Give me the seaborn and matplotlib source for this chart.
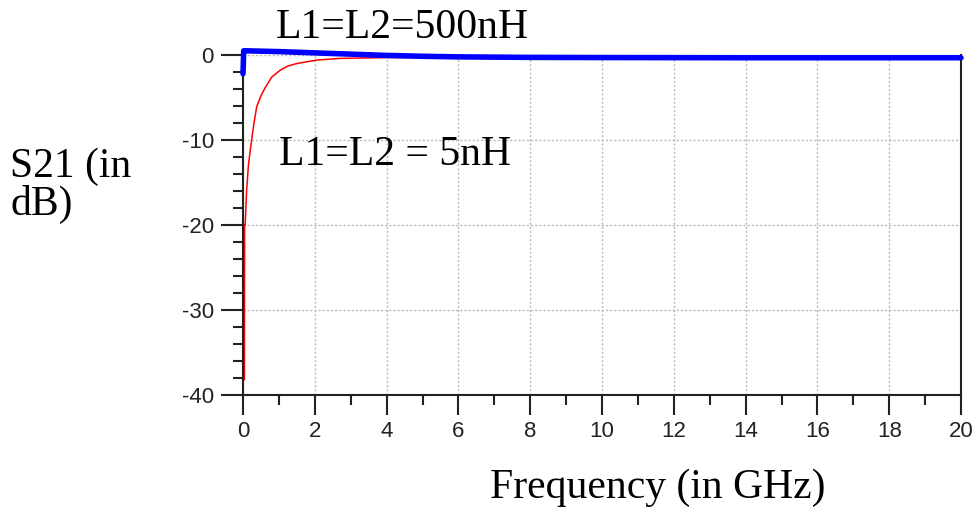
import numpy as np
import pandas as pd
import matplotlib
matplotlib.use("Agg")
import matplotlib.pyplot as plt
import seaborn as sns
from matplotlib.ticker import MultipleLocator

# --- data ---
freq_5nH = [0.04, 0.045, 0.06, 0.1, 0.15, 0.2, 0.24, 0.3, 0.38, 0.5, 0.61, 0.8,
            1.03, 1.25, 1.5, 2.05, 2.7, 3.4, 4.0, 6.0, 10.0, 20.0]
s21_5nH = [-38.2, -20.0, -20.0, -16.0, -13.0, -11.3, -10.0, -8.2, -6.1, -4.8, -3.9, -2.6,
           -1.8, -1.3, -1.0, -0.6, -0.4, -0.35, -0.3, -0.3, -0.3, -0.3]

freq_500nH = [0.0, 0.02, 1.0, 2.0, 3.0, 4.0, 5.0, 6.0, 8.0, 10.0, 14.0, 20.0]
s21_500nH = [-2.2, 0.5, 0.4, 0.25, 0.1, -0.05, -0.15, -0.22, -0.28, -0.3, -0.32, -0.32]

label_500 = "L1=L2=500nH"
label_5 = "L1=L2 = 5nH"

df_red = pd.DataFrame({"f": freq_5nH, "s21": s21_5nH})
df_blue = pd.DataFrame({"f": freq_500nH, "s21": s21_500nH})

sns.set_style("white")
plt.rcParams["font.family"] = ["Liberation Sans", "DejaVu Sans"]
plt.rcParams["axes.unicode_minus"] = False
plt.rcParams["xtick.major.size"] = 14.5
plt.rcParams["xtick.minor.size"] = 7
plt.rcParams["ytick.major.size"] = 16
plt.rcParams["ytick.minor.size"] = 7
plt.rcParams["xtick.major.width"] = 1.5
plt.rcParams["xtick.minor.width"] = 1.5
plt.rcParams["ytick.major.width"] = 1.5
plt.rcParams["ytick.minor.width"] = 1.5
plt.rcParams["xtick.color"] = "#222222"
plt.rcParams["ytick.color"] = "#222222"

fig = plt.figure(figsize=(9.73, 5.08), dpi=100)
ax = fig.add_axes([243 / 973, 1 - 395 / 508, (961 - 243) / 973, (395 - 55) / 508])

sns.lineplot(data=df_red, x="f", y="s21", color="red", linewidth=1.1, ax=ax)
sns.lineplot(data=df_blue, x="f", y="s21", color="#0000ff", linewidth=4,
             ax=ax, clip_on=False, zorder=5)

ax.set_xlim(0, 20)
ax.set_ylim(-40, 0)
ax.xaxis.set_major_locator(MultipleLocator(2))
ax.xaxis.set_minor_locator(MultipleLocator(1))
ax.yaxis.set_major_locator(MultipleLocator(10))
ax.yaxis.set_minor_locator(MultipleLocator(2))

ax.grid(True, which="major", color="#b8b8b8", linestyle=(0, (1.5, 1.5)), linewidth=1)
ax.tick_params(axis="y", which="both", direction="out", left=True)
ax.tick_params(axis="x", which="both", direction="out", bottom=True)
ax.tick_params(axis="y", which="major", labelsize=16, pad=5)
ax.tick_params(axis="x", which="major", labelsize=16, pad=4)

ax.spines["top"].set_visible(False)
for side in ["left", "bottom", "right"]:
    ax.spines[side].set_color("#222222")
    ax.spines[side].set_linewidth(1.5)

ax.set_xlabel("")
ax.set_ylabel("")

serif = ["Liberation Serif", "DejaVu Serif"]
ax.text(0.92, 2.0, label_500, family=serif, fontsize=30, va="baseline",
        color="black", clip_on=False)
ax.text(1.0, -12.9, label_5, family=serif, fontsize=30, va="baseline", color="black")

fig.text(10 / 973, 1 - 215 / 508, "S21 (in\ndB)", family=serif, fontsize=30,
         va="baseline", ha="left", linespacing=0.95, color="black")
fig.text(490 / 973, 1 - 498 / 508, "Frequency (in GHz)", family=serif, fontsize=30,
         va="baseline", ha="left", color="black")

fig.savefig("out.png", dpi=100)
